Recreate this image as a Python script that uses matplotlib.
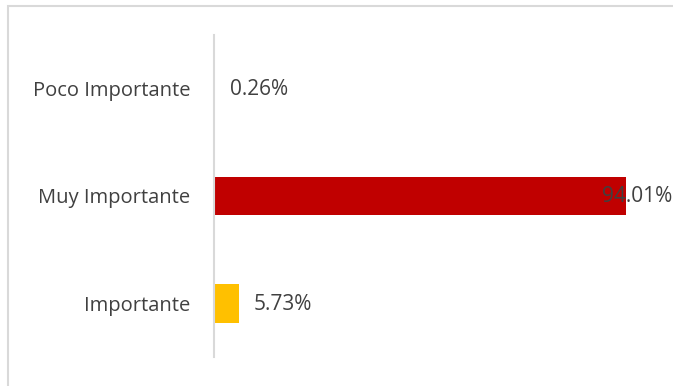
import matplotlib.pyplot as plt
from matplotlib.patches import Rectangle

categorias = ["Importante", "Muy Importante", "Poco Importante"]
porcentajes = [5.73, 94.01, 0.26]
colores = ["#FFC000", "#C00000", "#FFC000"]

plt.rcParams["font.family"] = ["Open Sans", "DejaVu Sans"]
gris = "#404040"

fig = plt.figure(figsize=(6.73, 3.86), dpi=100)
# marco del gráfico
fig.patches.append(Rectangle((8 / 673, -0.1), 1.2, 1 - 5.5 / 386 + 0.1,
                             transform=fig.transFigure, fill=False,
                             edgecolor="#D9D9D9", linewidth=1.5))

ax = fig.add_axes([214 / 673, 1 - 357 / 386, 1 - 214 / 673, 322 / 386])
y = range(len(categorias))
ax.barh(y, porcentajes, height=0.36, color=colores, zorder=1)
ax.set_xlim(0, (673 - 214) / 4.383)
ax.set_ylim(-0.5, 2.5)

for i, v in enumerate(porcentajes):
    dx = 15 if v < 50 else -24
    ax.annotate(f"{v:.2f}%", (v, i), xytext=(dx, -1), textcoords="offset pixels",
                va="center", ha="left", fontsize=15, color=gris, zorder=3)

ax.set_yticks(list(y))
ax.set_yticklabels(categorias, fontsize=14.5, color=gris)
ax.tick_params(axis="y", length=0, pad=17)
ax.set_xticks([])
for s in ["top", "right", "bottom"]:
    ax.spines[s].set_visible(False)
ax.spines["left"].set_color("#D9D9D9")
ax.spines["left"].set_linewidth(1.5)
ax.patch.set_alpha(0)

fig.savefig("out.png", dpi=100)
